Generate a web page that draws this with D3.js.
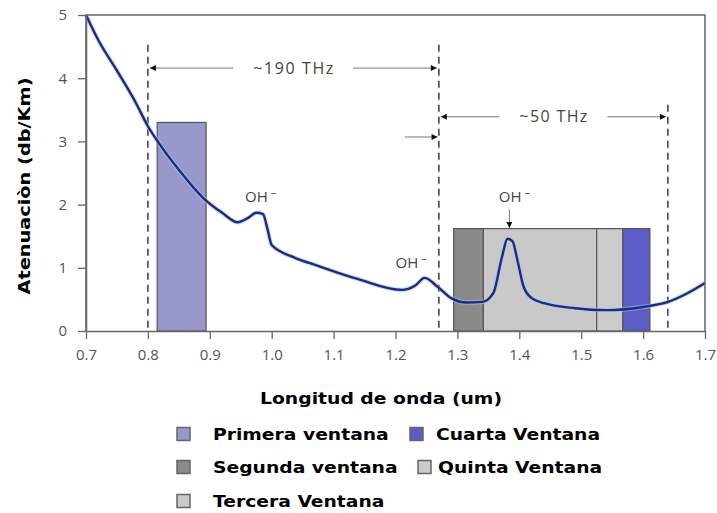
<!DOCTYPE html>
<html><head><meta charset="utf-8">
<script src="https://cdn.jsdelivr.net/npm/d3@7"></script>
<style>body{margin:0;background:#fff;}svg{display:block;}</style>
</head><body>
<svg id="c" width="717" height="513"></svg>
<script>
// ---- data ----
const wavelength = [0.70,0.72,0.75,0.78,0.80,0.82,0.85,0.89,0.92,0.945,0.962,0.975,0.986,0.993,1.00,1.035,1.075,1.14,1.21,1.232,1.247,1.268,1.29,1.315,1.34,1.358,1.372,1.381,1.389,1.397,1.407,1.42,1.44,1.49,1.54,1.60,1.64,1.67,1.70];
const attenuation = [5.0,4.60,4.12,3.62,3.24,2.94,2.55,2.1,1.87,1.72,1.79,1.87,1.85,1.62,1.36,1.17,1.03,0.82,0.65,0.72,0.84,0.70,0.52,0.45,0.46,0.60,1.17,1.46,1.42,1.12,0.70,0.52,0.44,0.36,0.33,0.38,0.46,0.59,0.76];

const windowNames = ["Primera ventana","Segunda ventana","Tercera Ventana","Cuarta Ventana","Quinta Ventana"];
const windowStart = [0.815, 1.294, 1.342, 1.567, 1.525];
const windowEnd   = [0.894, 1.342, 1.525, 1.611, 1.567];
const windowTop   = [3.30, 1.62, 1.62, 1.62, 1.62];
const windowColor = ["#9898cc","#8a8a8a","#c9c9c9","#5c5cc8","#cbcbcb"];

const xTicks = [0.7,0.8,0.9,1.0,1.1,1.2,1.3,1.4,1.5,1.6,1.7];
const xTickLabels = ["0.7","0.8","0.9","1.0","1.1","1.2","1.3","1.4","1.5","1.6","1.7"];
const yTicks = [0,1,2,3,4,5];

const dashX = [0.8, 1.27, 1.64];
const dashTop = [4.53, 4.53, 3.58];
const spanFrom = [0.8, 1.27];
const spanTo = [1.27, 1.64];
const spanY = [4.16, 3.39];
const spanLabel = ["~190 THz", "~50 THz"];

const ohX = [0.957, 1.2, 1.367];
const ohY = [2.04, 1.0, 2.04];

// ---- layout ----
const svg = d3.select("#c");
const x = d3.scaleLinear().domain([0.7,1.7]).range([86,705]);
const y = d3.scaleLinear().domain([0,5]).range([331,15]);

const g = svg.append("g");

// windows
g.selectAll("rect.win").data(windowNames).enter().append("rect")
  .attr("x",(d,i)=>x(windowStart[i]))
  .attr("width",(d,i)=>x(windowEnd[i])-x(windowStart[i]))
  .attr("y",(d,i)=>y(windowTop[i]))
  .attr("height",(d,i)=>y(0)-y(windowTop[i]))
  .attr("fill",(d,i)=>windowColor[i])
  .attr("stroke","#555").attr("stroke-width",1.2);

// dashed verticals
g.selectAll("line.dash").data(dashX).enter().append("line")
  .attr("x1",d=>x(d)).attr("x2",d=>x(d))
  .attr("y1",(d,i)=>y(dashTop[i])).attr("y2",y(0))
  .attr("stroke","#444").attr("stroke-width",1.6).attr("stroke-dasharray","7,5");

// arrowheads
const defs = svg.append("defs");
defs.append("marker").attr("id","ah").attr("viewBox","0 0 10 10").attr("refX",10).attr("refY",5)
  .attr("markerWidth",9).attr("markerHeight",6).attr("markerUnits","userSpaceOnUse").attr("orient","auto-start-reverse")
  .append("path").attr("d","M0,0L10,5L0,10Z").attr("fill","#111");

// spans
const spanW = [80, 68];
spanLabel.forEach((lab,i)=>{
  const x0 = x(spanFrom[i]), x1 = x(spanTo[i]), yy = y(spanY[i]);
  const cx = (x0+x1)/2;
  g.append("text").attr("x",cx).attr("y",yy+5.5).attr("text-anchor","middle")
    .attr("font-family","Open Sans, sans-serif").attr("font-size",16).attr("fill","#444")
    .attr("textLength",spanW[i]).attr("lengthAdjust","spacing").text(lab);
  const w = spanW[i]/2 + 20;
  g.append("line").attr("x1",cx-w).attr("x2",x0+2).attr("y1",yy).attr("y2",yy)
    .attr("stroke","#777").attr("stroke-width",1).attr("marker-end","url(#ah)");
  g.append("line").attr("x1",cx+w).attr("x2",x1-2).attr("y1",yy).attr("y2",yy)
    .attr("stroke","#777").attr("stroke-width",1).attr("marker-end","url(#ah)");
});
// small arrow left of second dashed line
g.append("line").attr("x1",x(1.215)).attr("x2",x(1.268)).attr("y1",y(3.07)).attr("y2",y(3.07))
  .attr("stroke","#777").attr("stroke-width",1).attr("marker-end","url(#ah)");

// curve
const pts = wavelength.map((w,i)=>[w,attenuation[i]]);
const line = d3.line().x(d=>x(d[0])).y(d=>y(d[1])).curve(d3.curveMonotoneX);
g.append("path").datum(pts).attr("d",line).attr("fill","none")
  .attr("stroke","#a9c4f5").attr("stroke-width",4.5).attr("opacity",0.6);
g.append("path").datum(pts).attr("d",line).attr("fill","none")
  .attr("stroke","#1c2c78").attr("stroke-width",2.4);

// OH labels
ohX.forEach((v,i)=>{
  const t = g.append("text").attr("x",x(v)).attr("y",y(ohY[i]))
    .attr("font-family","Open Sans, sans-serif").attr("font-size",15).attr("fill","#444");
  t.append("tspan").text("OH");
  t.append("tspan").attr("dx",3).attr("dy",-6).attr("font-size",11).text("\u2013");
});
// OH arrow at 1.38
g.append("line").attr("x1",x(1.384)).attr("x2",x(1.384)).attr("y1",y(1.92)).attr("y2",y(1.63))
  .attr("stroke","#777").attr("stroke-width",1).attr("marker-end","url(#ah)");

// frame
g.append("path").attr("d",`M${x(0.7)},${y(0)}V${y(5)}H${x(1.7)}V${y(0)}`)
  .attr("fill","none").attr("stroke","#666").attr("stroke-width",1.5);

// axes
const xa = svg.append("g").attr("transform",`translate(0,${y(0)})`)
  .call(d3.axisBottom(x).tickValues(xTicks).tickFormat((d,i)=>xTickLabels[i]).tickSize(8).tickPadding(10).tickSizeOuter(0));
const ya = svg.append("g").attr("transform",`translate(${x(0.7)},0)`)
  .call(d3.axisLeft(y).tickValues(yTicks).tickFormat(d3.format("d")).tickSize(8).tickPadding(11).tickSizeOuter(0));
[xa,ya].forEach(a=>{
  a.select(".domain").attr("stroke","#666").attr("stroke-width",1.5);
  a.selectAll(".tick line").attr("stroke","#666").attr("stroke-width",1.3);
  a.selectAll(".tick text").attr("font-family","Open Sans, sans-serif").attr("font-size",15).attr("fill","#555");
});

// titles
svg.append("text").attr("transform","translate(30,186) rotate(-90)").attr("text-anchor","middle")
  .attr("font-family","DejaVu Sans, sans-serif").attr("font-weight","bold").attr("font-size",16).attr("fill","#000")
  .attr("textLength",217).attr("lengthAdjust","spacingAndGlyphs")
  .text("Atenuaciòn (db/Km)");
svg.append("text").attr("x",381).attr("y",404).attr("text-anchor","middle")
  .attr("font-family","DejaVu Sans, sans-serif").attr("font-weight","bold").attr("font-size",16).attr("fill","#000")
  .attr("textLength",242).attr("lengthAdjust","spacingAndGlyphs")
  .text("Longitud de onda (um)");

// legend
const legOrder = [0,3,1,4,2];
const legSqX = [177,410,177,418,177];
const legTxX = [213,436,213,438,213];
const legRowY = [434,434,467,467,501];
legOrder.forEach((wi,k)=>{
  svg.append("rect").attr("x",legSqX[k]).attr("y",legRowY[k]-6.5).attr("width",13).attr("height",13)
    .attr("fill",windowColor[wi]).attr("stroke","#666").attr("stroke-width",1.5);
  const t = svg.append("text").attr("x",legTxX[k]).attr("y",legRowY[k]+6)
    .attr("font-family","DejaVu Sans, sans-serif").attr("font-weight","bold").attr("font-size",16).attr("fill","#000")
    .text(windowNames[wi]);
  const nat = t.node().getComputedTextLength();
  t.attr("textLength",nat*1.17).attr("lengthAdjust","spacingAndGlyphs");
});
</script>
</body></html>
